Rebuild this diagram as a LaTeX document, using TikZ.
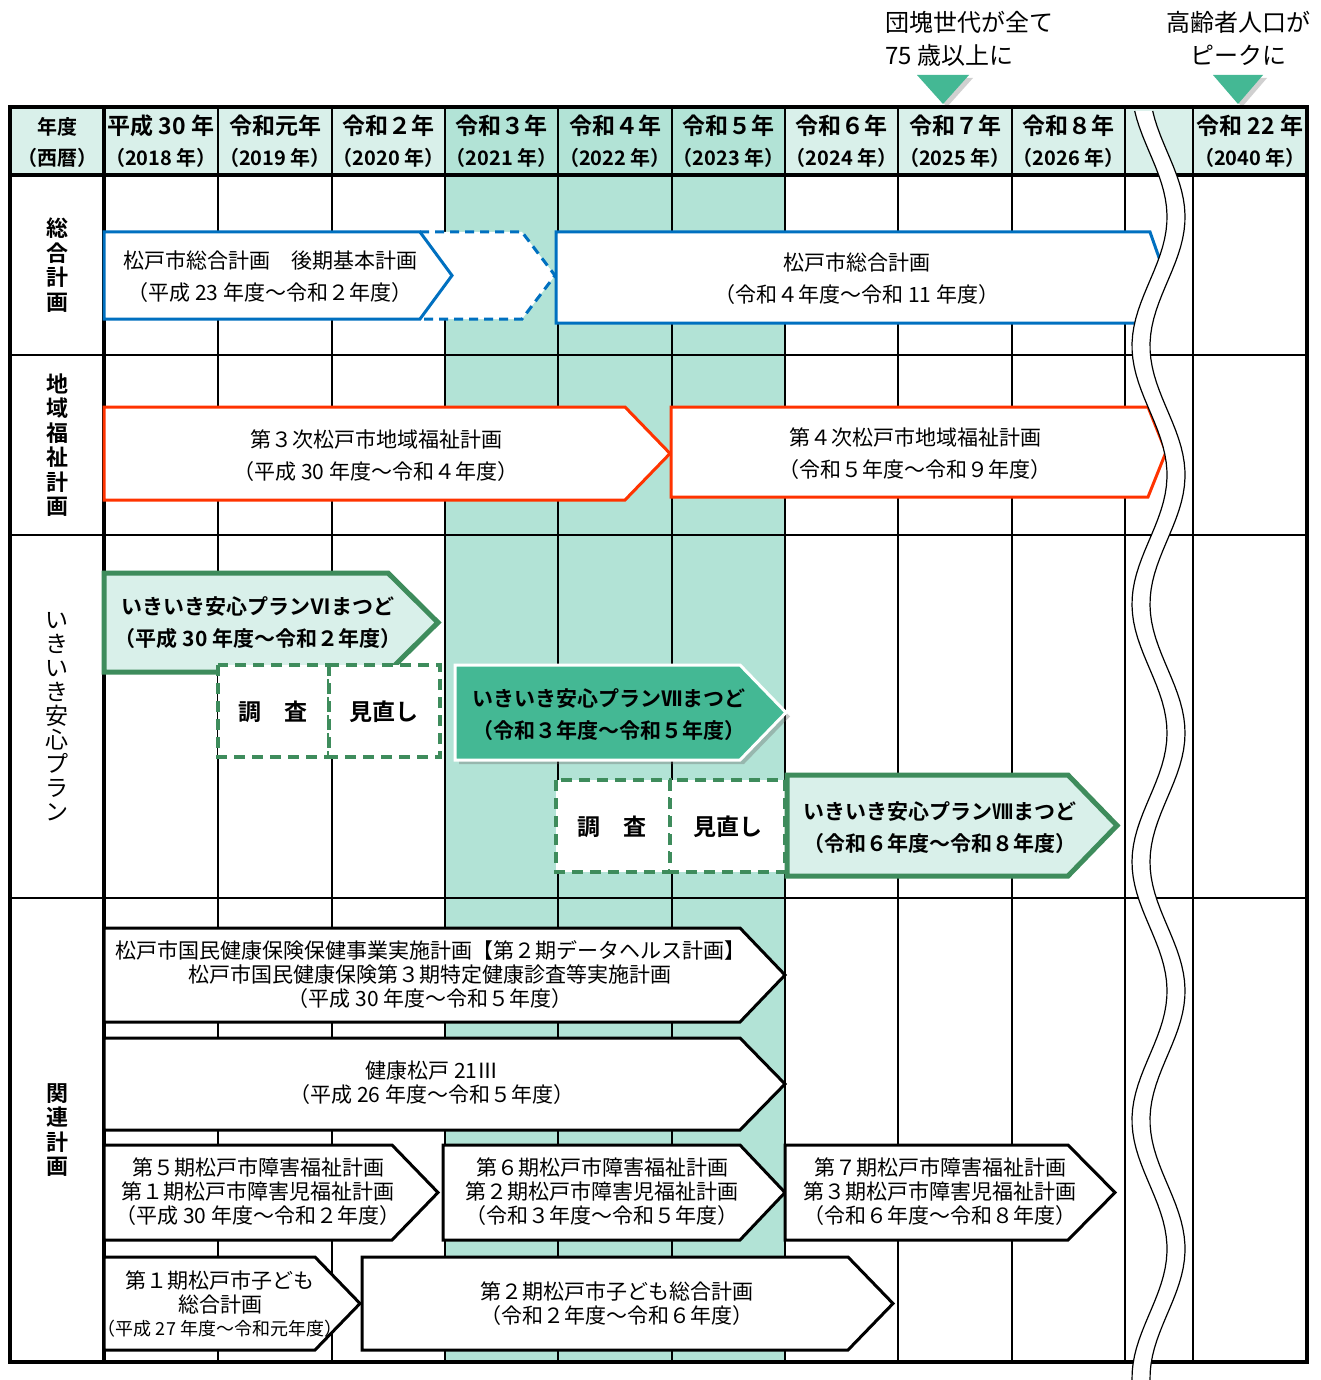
\documentclass[tikz,border=0pt]{standalone}
\usepackage{fontspec}
\setmainfont{Noto Sans CJK JP}[BoldFont={Noto Sans CJK JP Bold}]
\usetikzlibrary{shadows}
\definecolor{hdr}{HTML}{D9F0EA}
\definecolor{tealcol}{HTML}{B2E3D6}
\definecolor{bl}{HTML}{0070C0}
\definecolor{rd}{HTML}{FF3300}
\definecolor{gr}{HTML}{3E8C5C}
\definecolor{tealbox}{HTML}{44B894}
\newcommand\chevbox[6][]{\draw[#1] (#2,#3) -- (#4,#3) -- (#5,{(#3+#6)/2}) -- (#4,#6) -- (#2,#6) -- cycle;}
\tikzset{
  tx/.style={font=\fontsize{21}{32}\selectfont, align=center, inner sep=0pt},
  txiii/.style={font=\fontsize{21}{24}\selectfont, align=center, inner sep=0pt},
  txb/.style={font=\bfseries\fontsize{21}{32}\selectfont, align=center, inner sep=0pt},
  hd/.style={font=\bfseries\fontsize{23}{28}\selectfont, inner sep=0pt},
  hdii/.style={font=\bfseries\fontsize{20}{24}\selectfont, inner sep=0pt},
  vlab/.style={font=\bfseries\fontsize{22}{24.5}\selectfont, align=center, inner sep=0pt},
  ann/.style={font=\fontsize{24}{33}\selectfont, inner sep=0pt},
  gridl/.style={line width=1.8pt, black},
  thick/.style={line width=3.6pt, black},
  bluebox/.style={draw=bl, line width=3pt, fill=white},
  redbox/.style={draw=rd, line width=3pt, fill=white},
  greenbox/.style={draw=gr, line width=5pt, fill=hdr, line join=miter},
  blackbox/.style={draw=black, line width=3pt, fill=white},
  dashbox/.style={draw=gr, line width=3.5pt, fill=white, dash pattern=on 11pt off 7pt},
  tealchev/.style={draw=white, line width=3pt, fill=tealbox,
     drop shadow={shadow xshift=4pt, shadow yshift=-4pt, opacity=0.35, fill=black!60}},
  tri/.style={fill=tealbox, draw=none,
     drop shadow={shadow xshift=4pt, shadow yshift=-3pt, opacity=0.3, fill=black!60}},
}
\begin{document}
\begin{tikzpicture}[x=1pt,y=-1pt]
\useasboundingbox (0,0) rectangle (1320,1380);
\fill[white] (0,0) rectangle (1320,1380);
% backgrounds
\fill[hdr] (10,107) rectangle (1307,175);
\fill[tealcol] (445,107) rectangle (785,1362);
% grid
\foreach \x in {218,332,445,558,672,785,898,1012,1125,1193}
  \draw[gridl] (\x,107) -- (\x,1362);
\foreach \y in {355,535,898}
  \draw[gridl] (10,\y) -- (1307,\y);
\draw[thick] (104,107) -- (104,1362);
\draw[thick] (10,175) -- (1307,175);
% header texts
\node[hdii] (h0a) at (57,127) {年度};
\node[hdii] (h0b) at (57,158) {（西暦）};
\foreach \x/\a/\b [count=\i] in {161/平成 30 年/（2018 年）,275/令和元年/（2019 年）,388.5/令和２年/（2020 年）,501.5/令和３年/（2021 年）,615/令和４年/（2022 年）,728.5/令和５年/（2023 年）,841.5/令和６年/（2024 年）,955/令和７年/（2025 年）,1068.5/令和８年/（2026 年）,1250/令和 22 年/（2040 年）}
{
  \node[hd] (ya\i) at (\x,126) {\a};
  \node[hdii] (yb\i) at (\x,158) {\b};
}
% row labels
\node[vlab] (lab1) at (57,265) {総\\合\\計\\画};
\node[vlab] (lab2) at (57,445) {地\\域\\福\\祉\\計\\画};
\node[vlab, font=\fontsize{23}{24}\selectfont] (lab3) at (57,717) {い\\き\\い\\き\\安\\心\\プ\\ラ\\ン};
\node[vlab] (lab4) at (57,1130) {関\\連\\計\\画};
% annotations
\node[ann, anchor=west] (an1) at (885,22) {団塊世代が全て};
\node[ann, anchor=west] (an2) at (885,55) {75 歳以上に};
\node[ann] (an3) at (1238,22) {高齢者人口が};
\node[ann] (an4) at (1238,55) {ピークに};
\path[tri] (917,75) -- (969,75) -- (943,104) -- cycle;
\path[tri] (1213,75) -- (1263,75) -- (1238,104) -- cycle;
% 総合計画
\draw[bl, line width=3pt, fill=white, dash pattern=on 9pt off 6pt] (420,232) -- (522,232) -- (555,275.5) -- (522,319) -- (420,319);
\chevbox[bluebox]{104}{232}{420}{452}{319}
\chevbox[bluebox]{556}{232}{1150}{1166}{323}
\node[tx] (s1) at (270,277) {松戸市総合計画　後期基本計画\\（平成 23 年度～令和２年度）};
\node[tx] (s2) at (857,279) {松戸市総合計画\\（令和４年度～令和 11 年度）};
% 地域福祉計画
\chevbox[redbox]{104}{407}{625}{670}{500}
\chevbox[redbox]{671}{407}{1148}{1166}{497}
\node[tx] (c1) at (376,456) {第３次松戸市地域福祉計画\\（平成 30 年度～令和４年度）};
\node[tx] (c2) at (915,454) {第４次松戸市地域福祉計画\\（令和５年度～令和９年度）};
% いきいき安心プラン
\chevbox[greenbox]{104}{573}{388}{438}{672}
\draw[dashbox] (218,665) rectangle (329,757);
\draw[dashbox] (329,665) rectangle (440,757);
\chevbox[tealchev]{455}{665}{740}{786}{760}
\draw[dashbox] (556,780) rectangle (670,872);
\draw[dashbox] (670,780) rectangle (785,872);
\chevbox[greenbox]{787}{775}{1068}{1117}{876}
\node[txb] (i1) at (258,623) {いきいき安心プランⅥまつど\\（平成 30 年度～令和２年度）};
\node[txb] (i2) at (609,715) {いきいき安心プランⅦまつど\\（令和３年度～令和５年度）};
\node[txb] (i3) at (940,828) {いきいき安心プランⅧまつど\\（令和６年度～令和８年度）};
\node[txb, font=\bfseries\fontsize{23}{28}\selectfont] (r1) at (273,712) {調　査};
\node[txb, font=\bfseries\fontsize{23}{28}\selectfont] (r2) at (384,712) {見直し};
\node[txb, font=\bfseries\fontsize{23}{28}\selectfont] (r3) at (612,827) {調　査};
\node[txb, font=\bfseries\fontsize{23}{28}\selectfont] (r4) at (728,827) {見直し};
% 関連計画
\chevbox[blackbox]{104}{928}{740}{785}{1022}
\chevbox[blackbox]{104}{1038}{740}{785}{1130}
\chevbox[blackbox]{104}{1145}{392}{438}{1240}
\chevbox[blackbox]{443}{1145}{740}{785}{1240}
\chevbox[blackbox]{785}{1145}{1068}{1115}{1240}
\chevbox[blackbox]{104}{1257}{315}{360}{1350}
\chevbox[blackbox]{362}{1257}{848}{893}{1350}
\node[txiii] (k1) at (430,975) {松戸市国民健康保険保健事業実施計画【第２期データヘルス計画】\\松戸市国民健康保険第３期特定健康診査等実施計画\\（平成 30 年度～令和５年度）};
\node[txiii] (k2) at (432,1083) {健康松戸 21Ⅲ\\（平成 26 年度～令和５年度）};
\node[txiii] (k3) at (258,1192) {第５期松戸市障害福祉計画\\第１期松戸市障害児福祉計画\\（平成 30 年度～令和２年度）};
\node[txiii] (k4) at (602,1192) {第６期松戸市障害福祉計画\\第２期松戸市障害児福祉計画\\（令和３年度～令和５年度）};
\node[txiii] (k5) at (940,1192) {第７期松戸市障害福祉計画\\第３期松戸市障害児福祉計画\\（令和６年度～令和８年度）};
\node[txiii] (k6) at (220,1292) {第１期松戸市子ども\\総合計画};
\node[txiii, font=\fontsize{18}{20}\selectfont] (k6b) at (220,1329) {（平成 27 年度～令和元年度）};
\node[txiii] (k7) at (617,1304) {第２期松戸市子ども総合計画\\（令和２年度～令和６年度）};
% frame
\draw[thick] (10,107) rectangle (1307,1362);
% break band
\fill[white] plot[variable=\t, domain=111:1380, samples=160] ({1149.5+17.5*cos(1.39535*(\t-217))}, \t)
  -- plot[variable=\t, domain=1380:111, samples=160] ({1167.5+17.5*cos(1.39535*(\t-217))}, \t) -- cycle;
\draw[line width=1.2pt] plot[variable=\t, domain=111:1380, samples=160] ({1149.5+17.5*cos(1.39535*(\t-217))}, \t);
\draw[line width=1.2pt] plot[variable=\t, domain=111:1380, samples=160] ({1167.5+17.5*cos(1.39535*(\t-217))}, \t);
\end{tikzpicture}
\end{document}
